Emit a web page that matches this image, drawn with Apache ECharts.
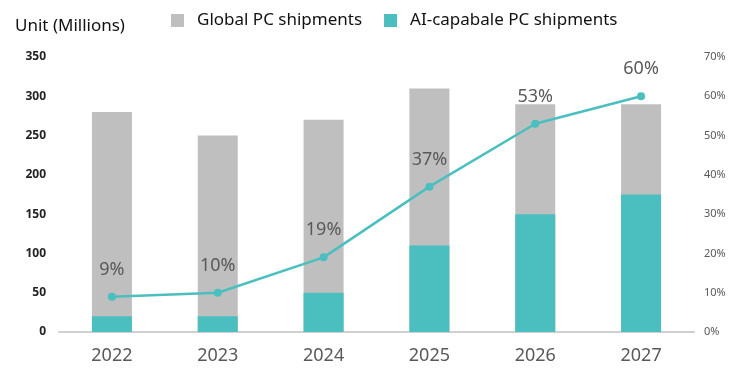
<!DOCTYPE html>
<html>
<head>
<meta charset="utf-8">
<script src="https://cdn.jsdelivr.net/npm/echarts@6/dist/echarts.min.js"></script>
<style>
  html, body { margin: 0; padding: 0; background: #fff; }
  #chart { width: 754px; height: 375px; }
</style>
</head>
<body>
<div id="chart"></div>
<script>
const years = ['2022', '2023', '2024', '2025', '2026', '2027'];
const globalShipments = [280, 250, 270, 310, 290, 290];
const aiShipments = [20, 20, 50, 110, 150, 175];
const aiShare = [9, 10, 19, 37, 53, 60];

const chart = echarts.init(document.getElementById('chart'));
const font = '"Noto Sans", "Open Sans", sans-serif';

chart.setOption({
  textStyle: { fontFamily: font },
  animation: false,
  title: {
    text: 'Unit (Millions)',
    left: 10,
    top: 13,
    textStyle: { fontSize: 17, fontWeight: 'normal', color: '#111', fontFamily: font }
  },
  legend: {
    top: 7,
    left: 166,
    itemWidth: 13,
    itemHeight: 13,
    itemGap: 22,
    icon: 'rect',
    textStyle: { fontSize: 17, color: '#111', fontFamily: font, padding: [0, 0, 0, 8] },
    data: ['Global PC shipments', 'AI-capabale PC shipments']
  },
  grid: { left: 59, right: 60, top: 57, bottom: 43, outerBoundsMode: 'none', containLabel: false },
  xAxis: {
    type: 'category',
    data: years,
    axisLine: { lineStyle: { color: '#d0d0d0', width: 2 } },
    axisTick: { show: false },
    axisLabel: { fontSize: 18, color: '#595959', margin: 15 }
  },
  yAxis: [
    {
      type: 'value',
      min: 0, max: 350, interval: 50,
      splitLine: { show: false },
      axisLine: { show: false },
      axisTick: { show: false },
      axisLabel: { fontSize: 12, fontWeight: 'bold', color: '#222', margin: 13 }
    },
    {
      type: 'value',
      min: 0, max: 70, interval: 10,
      splitLine: { show: false },
      axisLine: { show: false },
      axisTick: { show: false },
      axisLabel: { fontSize: 11, color: '#595959', margin: 10, align: 'left', formatter: '{value}%' }
    }
  ],
  series: [
    {
      name: 'Global PC shipments',
      type: 'bar',
      data: globalShipments,
      barWidth: 40,
      barGap: '-100%',
      itemStyle: { color: '#bfbfbf' }
    },
    {
      name: 'AI-capabale PC shipments',
      type: 'bar',
      data: aiShipments,
      barWidth: 40,
      itemStyle: { color: '#4bbfbf' }
    },
    {
      name: 'AI share',
      type: 'line',
      yAxisIndex: 1,
      data: aiShare,
      symbol: 'circle',
      symbolSize: 8,
      lineStyle: { color: '#4bbfbf', width: 2.5 },
      itemStyle: { color: '#4bbfbf' },
      label: {
        show: true,
        position: 'top',
        distance: 14,
        fontSize: 18,
        color: '#595959',
        formatter: '{c}%'
      }
    }
  ]
});
</script>
</body>
</html>
